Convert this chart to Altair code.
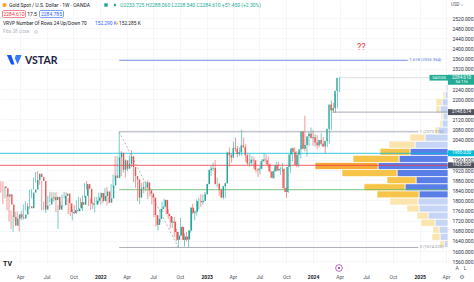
import altair as alt
import pandas as pd

FONT = "Roboto"
UP, DOWN = "#26a69a", "#ef5350"
W, H = 448, 265

# ---- weekly OHLC, XAU/USD (OANDA), first bar = week of 2021-01-25 ----
o21 = [1855,1848,1814,1824,1784,1734,1700,1727,1745,1732,1728,1744,1777,1777,1769,1831,1843,1881,1905,1891,1877,1764,1781,1784,1808,1812,1802,1814,1763,1780,1781,1818,1827,1788,1754,1750,1761,1757,1768,1793,1783,1818,1865,1846,1788,1783,1783,1799,1811]
h21 = [1876,1875,1855,1824,1816,1760,1740,1755,1756,1740,1758,1784,1797,1790,1843,1845,1890,1912,1916,1903,1877,1795,1795,1818,1834,1832,1832,1832,1782,1795,1823,1834,1832,1808,1787,1765,1781,1800,1814,1810,1818,1868,1877,1860,1808,1793,1815,1814,1831]
l21 = [1830,1785,1808,1761,1717,1687,1676,1718,1721,1677,1722,1724,1760,1756,1766,1808,1842,1870,1855,1862,1761,1761,1750,1784,1791,1794,1795,1753,1687,1772,1774,1808,1782,1745,1738,1721,1746,1746,1760,1770,1758,1812,1843,1778,1762,1766,1753,1785,1789]
c21 = [1848,1814,1824,1784,1734,1700,1727,1745,1732,1728,1744,1777,1777,1769,1831,1843,1881,1905,1891,1877,1764,1781,1784,1808,1812,1802,1814,1763,1780,1781,1818,1827,1788,1754,1750,1761,1757,1768,1793,1783,1818,1865,1846,1788,1783,1783,1799,1811,1829]

o22 = [1829,1797,1817,1835,1791,1808,1859,1898,1889,1970,1988,1921,1958,1925,1945,1974,1932,1896,1883,1811,1846,1853,1851,1871,1840,1827,1811,1742,1703,1727,1766,1775,1802,1747,1738,1712,1716,1675,1644,1661,1695,1644,1657,1645,1681,1771,1751,1755,1797,1797,1793,1798]
h22 = [1831,1830,1848,1853,1816,1865,1902,1974,1974,2070,1995,1966,1962,1950,1978,1998,1936,1910,1885,1849,1869,1874,1875,1879,1848,1830,1814,1745,1739,1767,1795,1807,1802,1765,1738,1735,1735,1688,1676,1730,1699,1669,1675,1683,1773,1786,1760,1804,1810,1824,1823,1833]
l22 = [1783,1790,1805,1780,1788,1807,1851,1878,1889,1960,1895,1910,1890,1915,1940,1931,1872,1850,1797,1786,1842,1828,1836,1805,1816,1784,1733,1697,1681,1711,1754,1773,1745,1727,1688,1691,1654,1639,1614,1660,1642,1618,1638,1616,1673,1746,1721,1740,1765,1774,1784,1797]
c22 = [1797,1817,1835,1791,1808,1859,1898,1889,1970,1988,1921,1958,1925,1945,1974,1932,1896,1883,1811,1846,1853,1851,1871,1840,1827,1811,1742,1703,1727,1766,1775,1802,1747,1738,1712,1716,1675,1644,1661,1695,1644,1657,1645,1681,1771,1751,1755,1797,1797,1793,1798,1824]

o23 = [1824,1865,1920,1926,1928,1865,1865,1842,1811,1856,1868,1989,1978,1969,2007,2004,1983,1990,2017,2011,1978,1946,1948,1961,1958,1921,1919,1925,1955,1962,1959,1943,1914,1889,1915,1940,1919,1924,1925,1848,1833,1932,1981,2006,1992,1940,1980,2002,2072,2004,2019,2053]
h23 = [1865,1922,1937,1949,1959,1890,1870,1847,1858,1870,1993,2009,1987,2032,2048,2015,2009,2079,2048,2022,1985,1983,1975,1971,1960,1928,1935,1963,1987,1982,1974,1946,1915,1923,1953,1953,1932,1947,1926,1853,1933,1997,2009,2009,1994,1993,2017,2075,2135,2048,2070,2088]
l23 = [1824,1862,1896,1916,1862,1852,1819,1809,1804,1809,1867,1934,1949,1968,1992,1970,1975,1976,2006,1952,1938,1933,1940,1925,1910,1893,1902,1923,1951,1942,1929,1911,1885,1884,1914,1915,1901,1913,1846,1810,1830,1908,1954,1970,1931,1930,1965,2001,1993,1973,2016,2047]
c23 = [1865,1920,1926,1928,1865,1865,1842,1811,1856,1868,1989,1978,1969,2007,2004,1983,1990,2017,2011,1978,1946,1948,1961,1958,1921,1919,1925,1955,1962,1959,1943,1914,1889,1915,1940,1919,1924,1925,1848,1833,1932,1981,2006,1992,1940,1980,2002,2072,2004,2019,2053,2063]

o24 = [2063,2045,2049,2029,2018,2039,2024,2013,2035,2083,2179,2155,2165,2233]
h24 = [2078,2062,2058,2036,2065,2051,2032,2041,2088,2195,2185,2222,2236,2288]
l24 = [2016,2013,2002,2010,2016,2011,1984,2011,2024,2078,2146,2146,2164,2228]
c24 = [2045,2049,2029,2018,2039,2024,2013,2035,2083,2179,2155,2165,2233,2284.61]

opens = o21 + o22 + o23 + o24
highs = h21 + h22 + h23 + h24
lows = l21 + l22 + l23 + l24
closes = c21 + c22 + c23 + c24

# ---- visible range volume profile (24 rows, bottom to top) ----
vp_edges = [1614,1642,1670,1698,1726,1754,1782,1810,1838,1866,1894,1922,1950,1978,2006,2034,2062,2090,2118,2146,2174,2202,2230,2258,2286]
vp_up =   [4,8,9,13,20,29,30,29,43,32,51,70,49,38,33,23,10,6,5,8,6,3,2,1]
vp_down = [4,8,6,14,11,12,28,42,41,29,55,63,46,30,26,15,3,2,2,4,6,2,1,1]
vp_value_area = [False,False,False,False,False,False,False,True,True,True,True,True,True,True,False,False,False,False,False,False,False,False,False,False]
vp_poc_row = 11

# ---- drawings ----
fib_start, fib_ray_end = "2022-03-07", "2025-04-08"
fib_low_date = "2022-09-26"
fib_prices = [1614.02, 2070.97, 2353.364]
fib_ends = ["2024-12-27", "2024-12-27", "2024-11-21"]
fib_labels = ["0 (1614.020)", "1 (2070.970)", "1.618 (2353.364)"]
fib_colors = ["#9598a1", "#9598a1", "#5a78e0"]
fib_half = 1842.50
poc_price = 1938.6
hline_price = 1986.0
ray_price, ray_start = 2148.674, "2024-03-08"
last_price, last_date = 2284.61, "2024-04-01"

x_tick_dates = ["2021-04-01","2021-07-01","2021-10-01","2022-01-01","2022-04-01","2022-07-01",
                "2022-10-01","2023-01-01","2023-04-01","2023-07-01","2023-10-01","2024-01-01",
                "2024-04-01","2024-07-01","2024-10-01","2025-01-01","2025-04-01"]
# price labels (those hidden under the price tags are left out, as on the original)
y_ticks = [1560,1600,1640,1680,1720,1760,1800,1840,1880,1920,1960,2040,2080,2120,
           2200,2240,2320,2360,2400,2440,2480,2520]

tag_prices = [2148.674, hline_price, poc_price]
tag_texts = ["2148.674", "1986.030", "1938.580"]
tag_fills = ["#50535e", "#00bcd4", "#50535e"]

# ---------------- build ----------------
dates = pd.date_range("2021-01-25", periods=len(closes), freq="7D").strftime("%Y-%m-%d").tolist()
df = pd.DataFrame(dict(date=dates, open=opens, high=highs, low=lows, close=closes))
df["color"] = [UP if c >= o else DOWN for o, c in zip(opens, closes)]


def dt(s):
    return alt.DateTime(year=int(s[:4]), month=int(s[5:7]), date=int(s[8:10]), utc=True)


X_DOMAIN = [dt("2021-01-22"), dt("2025-04-08")]


def xs():
    return alt.Scale(type="utc", domain=X_DOMAIN)


y_axis = alt.Axis(
    orient="right", values=y_ticks, format=".3f", labelFont=FONT, labelFontSize=5,
    labelColor="#2a2e39", labelPadding=4, ticks=False, domain=False,
    grid=True, gridColor="#eef1f7", gridWidth=0.6, title=None, labelOverlap=False,
)


def Y(field):
    return alt.Y(field, scale=alt.Scale(domain=[1544.7, 2591.7], nice=False, zero=False), axis=y_axis)


is_year = "utcFormat(datum.value, '%m') == '01'"
x_axis = alt.Axis(
    values=[dt(s) for s in x_tick_dates],
    labelExpr=f"{is_year} ? utcFormat(datum.value, '%Y') : utcFormat(datum.value, '%b')",
    labelFontWeight={"condition": {"test": is_year, "value": "bold"}, "value": "normal"},
    labelColor={"condition": {"test": is_year, "value": "#131722"}, "value": "#50535e"},
    labelFont=FONT, labelFontSize=5, labelPadding=9, ticks=False, domain=False,
    grid=True, gridColor="#eef1f7", gridWidth=0.6, title=None, labelOverlap=False, labelFlush=False,
)

# volume profile
rows = []
for i in range(len(vp_up)):
    va = vp_value_area[i]
    lo, hi = vp_edges[i], vp_edges[i + 1]
    dn_kind = "dn_poc" if i == vp_poc_row else ("dn_va" if va else "dn_out")
    rows.append(dict(lo=lo, hi=hi, start=0, end=vp_up[i], kind="up_va" if va else "up_out"))
    rows.append(dict(lo=lo, hi=hi, start=vp_up[i], end=vp_up[i] + vp_down[i], kind=dn_kind))
vp = pd.DataFrame(rows)
profile = alt.Chart(vp).mark_rect(stroke="white", strokeWidth=0.7).encode(
    x=alt.X("start:Q", scale=alt.Scale(domain=[0, W], reverse=True), axis=None),
    x2="end:Q",
    y=Y("lo:Q"),
    y2="hi:Q",
    color=alt.Color("kind:N", legend=None, scale=alt.Scale(
        domain=["up_va", "dn_va", "up_out", "dn_out", "dn_poc"],
        range=["#5a7ee8", "#f6c448", "#c6d5f6", "#fbe4ad", "#f5aa3a"])),
)

# full-width horizontal lines (user line and POC)
hl = pd.DataFrame(dict(price=[hline_price, poc_price], color=["#00bcd4", "#f23645"]))
hlines = alt.Chart(hl).mark_rule(strokeWidth=0.8).encode(
    y=Y("price:Q"), color=alt.Color("color:N", scale=None))

# fib lines
fib = pd.DataFrame(dict(start=[fib_start] * 3, end=fib_ends, price=fib_prices,
                        label=fib_labels, color=fib_colors))
fib_lines = alt.Chart(fib).mark_rule(strokeWidth=0.8).encode(
    x=alt.X("start:T", scale=xs(), axis=None), x2="end:T",
    y=Y("price:Q"), color=alt.Color("color:N", scale=None))
fib_text = alt.Chart(fib).mark_text(align="left", baseline="middle", dx=1.5, fontSize=4.2, font=FONT).encode(
    x=alt.X("end:T", scale=xs(), axis=None), y=Y("price:Q"),
    text="label:N", color=alt.Color("color:N", scale=None))
half = pd.DataFrame(dict(start=[fib_start], end=[fib_ray_end], price=[fib_half]))
half_line = alt.Chart(half).mark_rule(strokeWidth=0.8, color="#66bb6a").encode(
    x=alt.X("start:T", scale=xs(), axis=None), x2="end:T", y=Y("price:Q"))
diag = pd.DataFrame(dict(date=[fib_start, fib_low_date], price=[fib_prices[1], fib_prices[0]]))
diag_line = alt.Chart(diag).mark_line(strokeWidth=0.7, strokeDash=[2, 2], color="#9598a1").encode(
    x=alt.X("date:T", scale=xs(), axis=None), y=Y("price:Q"))

ray = pd.DataFrame(dict(start=[ray_start, last_date], end=[fib_ray_end, fib_ray_end],
                        price=[ray_price, last_price], color=["#787b86", "#9aa0a6"], dash=["s", "d"]))
rays = alt.Chart(ray).mark_rule(strokeWidth=0.7).encode(
    x=alt.X("start:T", scale=xs(), axis=None), x2="end:T",
    y=Y("price:Q"), color=alt.Color("color:N", scale=None),
    strokeDash=alt.StrokeDash("dash:N", legend=None, scale=alt.Scale(domain=["s", "d"], range=[[1, 0], [1, 1]])))

# candles
base = alt.Chart(df)
wick = base.mark_rule(strokeWidth=0.6).encode(
    x=alt.X("date:T", scale=xs(), axis=x_axis),
    y=Y("low:Q"), y2="high:Q",
    color=alt.Color("color:N", scale=None))
body = base.mark_bar(size=1.4).encode(
    x=alt.X("date:T", scale=xs(), axis=None),
    y=Y("open:Q"), y2="close:Q",
    color=alt.Color("color:N", scale=None))

# price-axis tags
TAG_X = W + 13.5
tags = pd.DataFrame(dict(price=tag_prices, text=tag_texts, fill=tag_fills))
tag_box = alt.Chart(tags).mark_point(shape="M-1,-0.22H1V0.22H-1Z", size=729, filled=True, opacity=1).encode(
    x=alt.value(TAG_X), y=Y("price:Q"), fill=alt.Color("fill:N", scale=None))
tag_txt = alt.Chart(tags).mark_text(fontSize=4.5, font=FONT, color="white", baseline="middle").encode(
    x=alt.value(TAG_X), y=Y("price:Q"), text="text:N")

lp = pd.DataFrame(dict(price=[last_price], t1=["2284.610"], t2=["5d 11h"], sym=["XAUUSD"]))
lp_box = alt.Chart(lp).mark_point(shape="M-1,-0.22H1V0.52H-1Z", size=729, filled=True, opacity=1, color="#22ab94").encode(
    x=alt.value(TAG_X), y=Y("price:Q"))
lp_t1 = alt.Chart(lp).mark_text(fontSize=4.5, font=FONT, color="white", baseline="middle").encode(
    x=alt.value(TAG_X), y=Y("price:Q"), text="t1:N")
lp_t2 = alt.Chart(lp).mark_text(fontSize=4, font=FONT, color="white", baseline="middle", dy=4.3).encode(
    x=alt.value(TAG_X), y=Y("price:Q"), text="t2:N")
sym_box = alt.Chart(lp).mark_point(shape="M-1,-0.3H1V0.3H-1Z", size=361, filled=True, opacity=1, color="#22ab94").encode(
    x=alt.value(W - 9), y=Y("price:Q"))
sym_txt = alt.Chart(lp).mark_text(fontSize=3.6, font=FONT, color="white", baseline="middle").encode(
    x=alt.value(W - 9), y=Y("price:Q"), text="sym:N")


def txt(s, x, y, size=5, color="#131722", weight="normal", align="left", font=FONT):
    return alt.Chart(pd.DataFrame({"t": [s]})).mark_text(
        align=align, baseline="middle", fontSize=size, color=color, fontWeight=weight, font=font
    ).encode(x=alt.value(x), y=alt.value(y), text="t:N")


def box(x1, x2, y1, y2, stroke):
    return alt.Chart(pd.DataFrame({"a": [0]})).mark_rect(
        stroke=stroke, strokeWidth=0.6, fill="white", cornerRadius=1.5
    ).encode(x=alt.value(x1), x2=alt.value(x2), y=alt.value(y1), y2=alt.value(y2))


def dot(x, y, size, color, shape="circle", filled=True, sw=0.6):
    return alt.Chart(pd.DataFrame({"a": [0]})).mark_point(
        shape=shape, size=size, filled=filled, opacity=1, color=color, strokeWidth=sw
    ).encode(x=alt.value(x), y=alt.value(y))


header = [
    dot(4.5, 5, 18, "#f5a623"),
    txt("Gold Spot / U.S. Dollar · 1W · OANDA", 9, 5),
    dot(106, 5, 12, "#26a69a", shape="square"),
    dot(115, 5, 6, "#26a69a"),
    txt("O2233.725 H2288.060 L2228.540 C2284.610 +51.450 (+2.30%)", 120, 5, color="#22ab94"),
    box(2.5, 25.5, 10.5, 17.5, "#f23645"),
    txt("2284.610", 14, 14, color="#f23645", align="center"),
    txt("17.5", 32, 14, color="#131722", align="center"),
    box(39.5, 63.5, 10.5, 17.5, "#2962ff"),
    txt("2284.785", 51.5, 14, color="#2962ff", align="center"),
    txt("VRVP Number Of Rows 24 Up/Down 70", 3, 23.5, size=4.8),
    txt("152.290 K", 95, 23.5, size=4.8, color="#2962ff"),
    dot(117, 23.5, 5, "#f6c448"),
    txt("152.285 K", 119, 23.5, size=4.8, color="#131722"),
    txt("Fibs 38 close", 3, 32, size=4.5, color="#b2b5be"),
    dot(36, 32, 8, "#b2b5be", filled=False),
    # VSTAR logo
    dot(13, 59.5, 150, "#1253ff", shape="M-1,-0.75L-0.3,-0.75L0.25,0.8L-0.3,0.8Z"),
    dot(15.5, 59.5, 150, "#3a7bff", shape="M0.05,-0.75L1,-0.75L0.35,0.8L-0.1,-0.2Z"),
    txt("VSTAR", 25, 60.5, size=10.5, weight="bold", color="#1b2540", font="Lato"),
    txt("??", 357, 46.5, size=9, color="#e53935"),
    # price axis header
    txt("USD ˅", 451, 5, size=4.5, color="#50535e"),
    # bottom bits
    txt("TV", 3, 264, size=7, weight="bold", color="#131722"),
    dot(339, 268, 45, "#9c27b0", filled=False, sw=0.7),
    dot(339, 268, 4, "#9c27b0"),
    txt("A", 457, 268, size=5, color="#50535e", align="center"),
    txt("L", 465, 268, size=5, color="#50535e", align="center"),
    txt("⚙", 462, 277, size=6, color="#787b86", align="center", font="DejaVu Sans"),
]

chart = alt.layer(
    wick, profile, hlines, fib_lines, half_line, diag_line, rays, fib_text, body,
    tag_box, tag_txt, lp_box, lp_t1, lp_t2, sym_box, sym_txt, *header
).resolve_scale(x="independent").properties(
    width=W, height=H,
    padding={"left": 0, "top": 0, "right": 474 - W, "bottom": 282 - H},
    autosize=alt.AutoSizeParams(type="none"),
    background="white",
).configure_view(stroke=None)

chart.save("out.html", embed_options={"renderer": "svg", "actions": False})
